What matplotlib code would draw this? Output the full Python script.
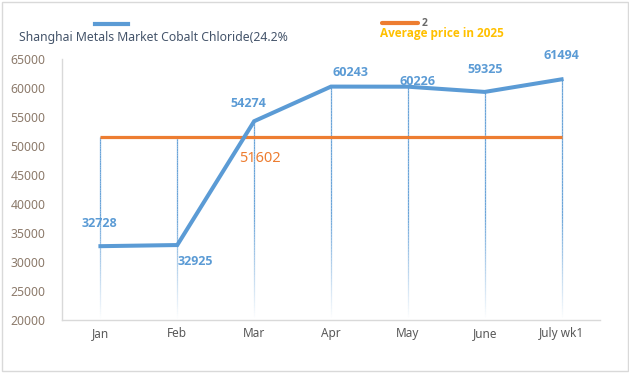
import numpy as np
import matplotlib
matplotlib.use('Agg')
import matplotlib.pyplot as plt
from matplotlib.patches import Rectangle
from matplotlib.lines import Line2D
from matplotlib.collections import LineCollection

plt.rcParams['font.family'] = ['Noto Sans', 'DejaVu Sans']

# data
months = ['Jan', 'Feb', 'Mar', 'Apr', 'May', 'June', 'July wk1']
prices = [32728, 32925, 54274, 60243, 60226, 59325, 61494]
avg_2025 = 51602
yticks = [20000, 25000, 30000, 35000, 40000, 45000, 50000, 55000, 60000, 65000]

# label offsets (points) for each price label
label_offsets = [(-1, 16), (13, -12), (-4, 13), (14, 10), (7, 4), (0, 16), (0, 17)]

blue = '#5B9BD5'
orange = '#ED7D31'

fig = plt.figure(figsize=(6.29, 3.83), dpi=100)
ax = fig.add_axes([62 / 629, 1 - 320 / 383, (600 - 62) / 629, (320 - 59) / 383])

x = np.arange(len(months))

# drop lines, fading toward the bottom
segs, cols = [], []
for xi, p in zip(x, prices):
    top = max(p, avg_2025)
    ys = np.linspace(20000, top, 80)
    for a, b in zip(ys[:-1], ys[1:]):
        segs.append([(xi, a), (xi, b)])
        alpha = np.clip((a - 20000) / 18000, 0, 1) * 0.9
        cols.append((0.357, 0.608, 0.835, alpha))
ax.add_collection(LineCollection(segs, colors=cols, linewidths=0.9, zorder=1))

ax.plot(x, [avg_2025] * len(x), color=orange, lw=2.3, zorder=2, solid_capstyle='butt')
ax.plot(x, prices, color=blue, lw=2.9, zorder=3, solid_joinstyle='miter')

for xi, p, (dx, dy) in zip(x, prices, label_offsets):
    ax.annotate(str(p), (xi, p), xytext=(dx, dy), textcoords='offset points',
                ha='center', va='center', fontsize=9, fontweight='bold', color=blue,
                family='Open Sans')
ax.annotate(str(avg_2025), (2, avg_2025), xytext=(4, -16), textcoords='offset points',
            ha='center', va='center', fontsize=10.5, color=orange)

ax.set_xlim(-0.5, 6.5)
ax.set_ylim(20000, 65000)
ax.set_yticks(yticks)
ax.set_xticks(x)
ax.set_xticklabels(months)
ax.tick_params(axis='y', length=0, pad=12, labelsize=8.8, labelcolor='#8C7A6B')
ax.tick_params(axis='x', length=0, pad=5, labelsize=8.5, labelcolor='#595959')
for s in ['top', 'right']:
    ax.spines[s].set_visible(False)
for s in ['left', 'bottom']:
    ax.spines[s].set_color('#D9D9D9')
    ax.spines[s].set_linewidth(1)

# legend-like header
fig.add_artist(Line2D([95 / 629, 128 / 629], [1 - 24 / 383] * 2, color=blue, lw=3))
fig.text(19 / 629, 1 - 37 / 383, 'Shanghai Metals Market Cobalt Chloride(24.2%',
         fontsize=8.8, color='#44546A', va='center', ha='left')
fig.add_artist(Line2D([382 / 629, 418 / 629], [1 - 23 / 383] * 2, color=orange, lw=3,
                      solid_capstyle='round'))
fig.text(425 / 629, 1 - 23 / 383, '2', fontsize=7.5, fontweight='bold', color='#444444',
         va='center', ha='center', family='Open Sans', alpha=0.8)
fig.text(380 / 629, 1 - 34 / 383, 'Average price in 2025', family='Open Sans',
         fontsize=8.5, fontweight='bold', color='#FFC000', va='center', ha='left')

# outer border
fig.add_artist(Rectangle((2 / 629, 1 - 371 / 383), 626 / 629, 369 / 383,
                         transform=fig.transFigure, fill=False, edgecolor='#D9D9D9', lw=1))

fig.savefig('out.png', dpi=100)
